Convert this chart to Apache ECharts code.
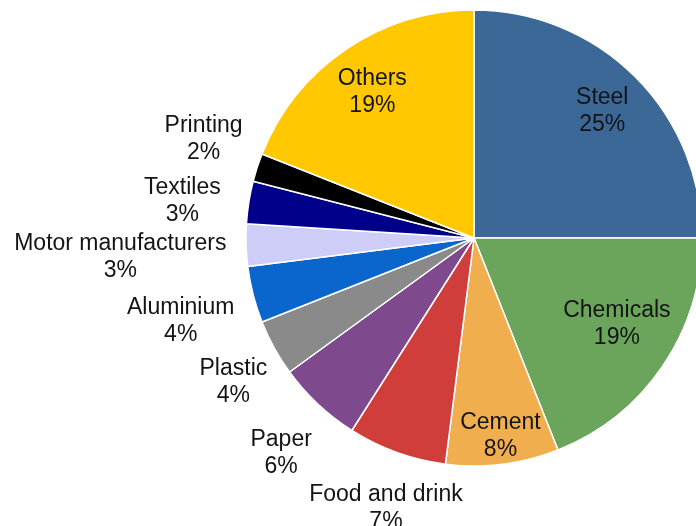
<!DOCTYPE html>
<html>
<head>
<meta charset="utf-8">
<style>
  html, body { margin: 0; padding: 0; background: #fff; }
  #chart { width: 696px; height: 526px; }
</style>
<script src="https://cdn.jsdelivr.net/npm/echarts@6/dist/echarts.min.js"></script>
</head>
<body>
<div id="chart"></div>
<script>
// Industrial energy use by sector (share, %)
const sectors = ['Steel', 'Chemicals', 'Cement', 'Food and drink', 'Paper', 'Plastic',
                 'Aluminium', 'Motor manufacturers', 'Textiles', 'Printing', 'Others'];
const shares = [25, 19, 8, 7, 6, 4, 4, 3, 3, 2, 19];
const sliceColors = ['#3C6898', '#6AA55B', '#F0AE4F', '#CF3E3B', '#7E4A8D', '#8A8A8A',
                     '#0A66CD', '#CDCDF8', '#00008A', '#000000', '#FFC800'];
// sectors whose label sits inside the slice (others are placed just outside)
const insideLabels = ['Steel', 'Chemicals', 'Cement', 'Others'];

const CX = 474, CY = 238, R = 228;
const INSIDE_GAP = 9, OUTSIDE_GAP = 13;
// fine adjustments [dx, dy] so neighbouring labels keep clear of each other
const labelNudge = {
  'Steel': [0, 1], 'Chemicals': [11, -3], 'Cement': [3, 12], 'Food and drink': [11, -5],
  'Paper': [0, 10], 'Plastic': [8, 7], 'Aluminium': [-3, 9], 'Motor manufacturers': [-6, 8],
  'Textiles': [-12, 7], 'Printing': [2, -10], 'Others': [-2, 1]
};

const total = shares.reduce((a, b) => a + b, 0);
const midAngles = [];
let acc = 0;
shares.forEach(v => { midAngles.push(2 * Math.PI * (acc + v / 2) / total); acc += v; });

const chart = echarts.init(document.getElementById('chart'));
chart.setOption({
  animation: false,
  series: [{
    type: 'pie',
    center: [CX, CY],
    radius: R,
    startAngle: 90,
    clockwise: true,
    avoidLabelOverlap: false,
    data: sectors.map((name, i) => ({
      name: name,
      value: shares[i],
      itemStyle: { color: sliceColors[i] }
    })),
    itemStyle: { borderColor: '#ffffff', borderWidth: 1.5 },
    label: {
      show: true,
      position: 'inside',
      formatter: p => p.name + '\n' + p.value + '%',
      fontFamily: 'Liberation Sans, Arial, sans-serif',
      fontSize: 23,
      lineHeight: 27,
      color: '#141414',
      align: 'center'
    },
    labelLine: { show: false },
    emphasis: { disabled: true },
    // Labels sit along each slice's bisector, just inside or just outside the rim
    labelLayout: function (params) {
      const i = params.dataIndex;
      const a = midAngles[i];
      const dx = Math.sin(a), dy = -Math.cos(a);
      const w = params.labelRect.width, h = params.labelRect.height;
      const ext = Math.abs(dx) * w / 2 + Math.abs(dy) * h / 2;
      const inside = insideLabels.indexOf(sectors[i]) >= 0;
      const dist = inside ? R - INSIDE_GAP - ext : R + OUTSIDE_GAP + ext;
      const nudge = labelNudge[sectors[i]] || [0, 0];
      return {
        x: CX + dx * dist + nudge[0],
        y: CY + dy * dist + nudge[1],
        align: 'center',
        verticalAlign: 'middle'
      };
    }
  }]
});
</script>
</body>
</html>
